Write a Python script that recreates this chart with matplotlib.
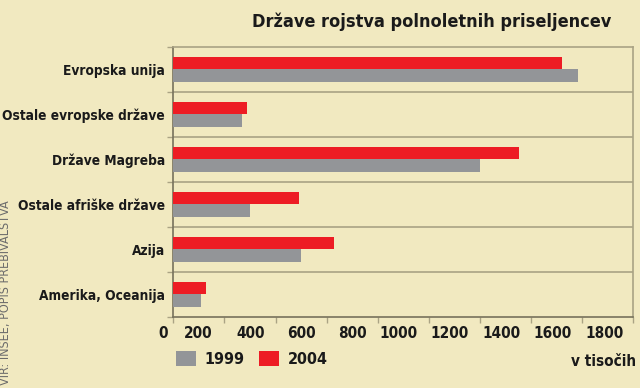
import matplotlib
matplotlib.use('Agg')
import matplotlib.pyplot as plt
import matplotlib.transforms as mtransforms
import numpy as np

categories = ['Evropska unija', 'Ostale evropske države', 'Države Magreba',
              'Ostale afriške države', 'Azija', 'Amerika, Oceanija']
v1999 = [1582, 269, 1200, 301, 500, 110]
v2004 = [1520, 288, 1354, 491, 630, 129]
xticks = [0, 200, 400, 600, 800, 1000, 1200, 1400, 1600, 1800]

bg = '#F1E9C0'
red = '#ED1C24'
gray = '#939598'
line = '#AAA384'
ink = '#1a1a1a'
font = ['Liberation Sans Narrow', 'DejaVu Sans Condensed', 'DejaVu Sans']

plt.rcParams['font.family'] = font
plt.rcParams['font.stretch'] = 'condensed'

fig = plt.figure(figsize=(6.4, 3.88), dpi=100, facecolor=bg)
ax = fig.add_axes([0.2708, 0.1838, 0.71875, 0.6959], facecolor=bg)

y = np.arange(len(categories))
h = 0.278
ax.barh(y - h / 2, v2004, height=h, color=red, label='2004', zorder=3)
ax.barh(y + h / 2, v1999, height=h, color=gray, label='1999', zorder=3)

ax.set_xlim(0, 1800)
ax.set_ylim(len(categories) - 0.5, -0.5)

# row separators
for b in np.arange(0.5, len(categories) - 0.5):
    ax.axhline(b, color=line, lw=1.2, zorder=1)

for s in ax.spines.values():
    s.set_color(line)
    s.set_linewidth(1.2)
ax.spines['left'].set_color('#77725c')
ax.spines['bottom'].set_color('#77725c')

ax.set_yticks(np.arange(-0.5, len(categories) + 0.5), minor=False)
ax.set_yticklabels([])
ax.tick_params(axis='y', length=4, color=line, width=1)
ax.set_yticks(y, minor=True)
ax.set_yticklabels(categories, minor=True, fontsize=9.8, fontweight='bold', color=ink)
ax.tick_params(axis='y', which='minor', length=0, pad=6)

ax.set_xticks(xticks)
ax.set_xticklabels([str(t) for t in xticks], fontsize=11, fontweight='bold',
                   color=ink, ha='right')
ax.tick_params(axis='x', length=4, color=line, width=1, pad=3)
offs = [-5, -12, -11, -11, -11, -11, -11, -11, -11, -10]
for lab, dx in zip(ax.get_xticklabels(), offs):
    lab.set_transform(lab.get_transform() +
                      mtransforms.ScaledTranslation(dx / 100, 0, fig.dpi_scale_trans))

fig.text(0.675, 0.944, 'Države rojstva polnoletnih priseljencev', ha='center',
         va='center', fontsize=13, fontweight='bold', color=ink)

handles, labels = ax.get_legend_handles_labels()
leg = fig.legend(handles[::-1], labels[::-1], loc='center left',
                 bbox_to_anchor=(0.252, 0.074), ncol=2, frameon=False,
                 handlelength=1.25, handleheight=1.0, handletextpad=0.55,
                 columnspacing=0.9, prop={'weight': 'bold', 'size': 11.5,
                                          'stretch': 'condensed'})
for t in leg.get_texts():
    t.set_color(ink)

fig.text(0.994, 0.069, 'v tisočih', ha='right', va='center', fontsize=11,
         fontweight='bold', color=ink)

fig.text(0.009, 0.008, 'VIR: INSEE, POPIS PREBIVALSTVA', rotation=90, ha='center',
         va='bottom', fontsize=9, color='#6b6b6b')

fig.savefig('out.png', dpi=100, facecolor=bg)
